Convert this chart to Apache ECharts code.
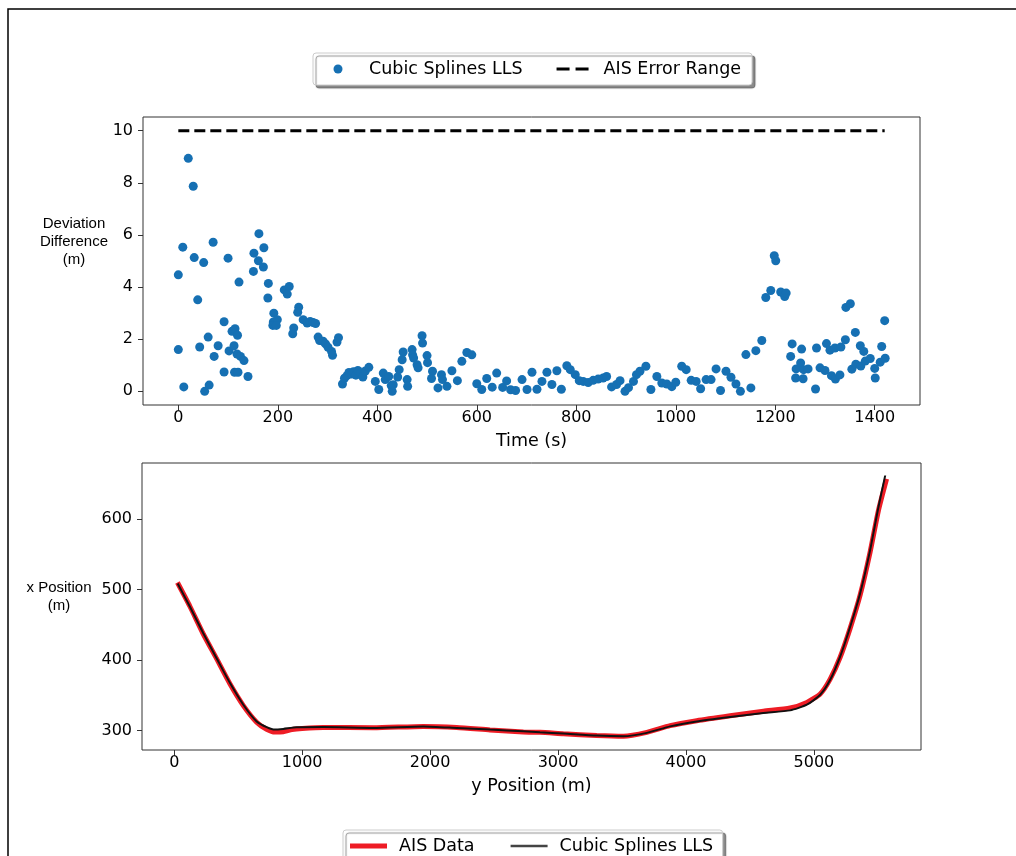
<!DOCTYPE html>
<html>
<head>
<meta charset="utf-8">
<script src="https://cdn.jsdelivr.net/npm/echarts@6.0.0/dist/echarts.min.js"></script>
<style>
  html, body { margin: 0; padding: 0; background: #fff; }
  #chart { width: 1016px; height: 856px; }
</style>
</head>
<body>
<div id="chart"></div>
<script>
// top panel: deviation between spline fit and AIS track
const timeS = [
  0, 0, 9, 11, 20, 30, 32, 39, 43, 51, 53, 60, 62, 70, 72, 80, 92, 92, 100, 102,
  108, 112, 114, 113, 119, 122, 120, 118, 125, 132, 140, 151, 152, 161, 162, 172, 171, 181, 180, 192,
  191, 199, 190, 197, 213, 219, 223, 232, 230, 242, 240, 251, 259, 265, 271, 276, 281, 284, 291, 296,
  301, 308, 310, 319, 322, 330, 334, 339, 343, 348, 352, 357, 361, 366, 371, 376, 383, 396, 403, 412,
  416, 423, 428, 430, 432, 441, 444, 450, 452, 460, 461, 470, 471, 473, 480, 482, 490, 491, 500, 501,
  511, 509, 522, 529, 531, 540, 550, 561, 570, 580, 590, 600, 610, 620, 631, 640, 652, 660, 668, 678,
  691, 701, 711, 721, 731, 741, 751, 761, 770, 781, 788, 798, 806, 814, 824, 834, 844, 854, 861, 871,
  881, 888, 898, 905, 915, 921, 928, 940, 950, 962, 972, 982, 992, 1000, 1012, 1021, 1031, 1041, 1050, 1061,
  1071, 1081, 1090, 1101, 1111, 1121, 1130, 1141, 1151, 1161, 1173, 1181, 1191, 1198, 1201, 1211, 1219, 1222, 1231, 1234,
  1241, 1242, 1251, 1253, 1256, 1257, 1266, 1281, 1283, 1290, 1300, 1303, 1310, 1313, 1320, 1321, 1330, 1332, 1341, 1342,
  1351, 1354, 1361, 1362, 1371, 1372, 1378, 1381, 1391, 1400, 1401, 1411, 1414, 1420, 1421
];
const deviation = [
  4.47, 1.60, 5.53, 0.17, 8.94, 7.87, 5.13, 3.51, 1.70, 4.94, 0.00, 2.08, 0.24, 5.72, 1.34, 1.75, 2.67, 0.74, 5.11, 1.55,
  2.30, 1.75, 2.40, 0.73, 2.15, 4.19, 0.73, 1.43, 1.34, 1.18, 0.57, 4.60, 5.30, 5.01, 6.05, 5.51, 4.77, 4.14, 3.58, 3.00,
  2.66, 2.75, 2.53, 2.53, 3.89, 3.73, 4.02, 2.43, 2.21, 3.23, 3.03, 2.75, 2.62, 2.68, 2.64, 2.60, 2.08, 1.95, 1.92, 1.82,
  1.69, 1.53, 1.38, 1.89, 2.06, 0.28, 0.50, 0.60, 0.72, 0.66, 0.75, 0.62, 0.80, 0.70, 0.55, 0.78, 0.92, 0.38, 0.07, 0.70,
  0.45, 0.57, 0.22, 0.00, 0.25, 0.55, 0.83, 1.21, 1.51, 0.45, 0.19, 1.60, 1.40, 1.28, 1.02, 0.90, 2.13, 1.85, 1.37, 1.10,
  0.77, 0.49, 0.13, 0.64, 0.45, 0.19, 0.79, 0.41, 1.15, 1.49, 1.40, 0.29, 0.07, 0.49, 0.16, 0.70, 0.15, 0.40, 0.06, 0.03,
  0.45, 0.07, 0.73, 0.08, 0.38, 0.73, 0.26, 0.79, 0.08, 0.98, 0.83, 0.64, 0.41, 0.38, 0.34, 0.42, 0.47, 0.51, 0.57, 0.17,
  0.26, 0.41, 0.00, 0.14, 0.38, 0.64, 0.77, 0.96, 0.07, 0.57, 0.32, 0.28, 0.18, 0.35, 0.96, 0.83, 0.42, 0.38, 0.10, 0.45,
  0.45, 0.86, 0.03, 0.77, 0.54, 0.28, 0.00, 1.41, 0.13, 1.56, 1.95, 3.60, 3.87, 5.20, 5.01, 3.81, 3.64, 3.77, 1.34, 1.82,
  0.51, 0.86, 1.09, 1.62, 0.48, 0.83, 0.86, 0.09, 1.66, 0.90, 0.80, 1.83, 1.58, 0.60, 1.66, 0.47, 0.63, 1.70, 1.98, 3.22,
  3.36, 0.85, 2.26, 1.04, 1.75, 0.97, 1.53, 1.16, 1.26, 0.88, 0.51, 1.12, 1.72, 2.71, 1.27
];
const errorRangeT = [0, 1420];
const errorRangeV = [10, 10];

// bottom panel: track positions
const yPosAis = [25, 123, 227, 331, 436, 540, 644, 722, 787, 852, 920, 1000, 1165, 1556, 1947, 2208, 2468, 2729, 2859, 3041,
  3302, 3511, 3694, 3876, 4084, 4345, 4605, 4814, 4945, 5049, 5127, 5205, 5283, 5361, 5439, 5504, 5568];
const xPosAis = [510, 476, 437, 402, 366, 335.5, 312, 302, 298, 298.5, 301.5, 303, 304.5, 304, 306, 304.5, 301, 298, 297.5, 295.5,
  293, 292, 297.5, 307, 314, 321, 327.5, 332, 340, 352, 373, 404, 445, 492, 553, 612, 657];
const yPosSpline = [27, 123, 227, 331, 436, 540, 644, 722, 787, 852, 957, 1165, 1556, 1947, 2208, 2468, 2729, 2859, 3041, 3302,
  3511, 3694, 3876, 4084, 4345, 4605, 4814, 4945, 5049, 5127, 5205, 5283, 5361, 5439, 5504, 5557];
const xPosSpline = [508.6, 475.6, 438, 402.7, 367.4, 336.7, 313, 305, 301.4, 302.4, 304.7, 305.2, 303.8, 306, 303.8, 301.4, 299, 297.6, 295.8, 292.9,
  292, 296.8, 306, 313, 319.3, 325, 328.7, 336.7, 350.8, 372, 405, 447, 494.5, 555.6, 616.8, 661.6];

const timeTicks = [0, 200, 400, 600, 800, 1000, 1200, 1400];
const devTicks = [0, 2, 4, 6, 8, 10];
const yPosTicks = [0, 1000, 2000, 3000, 4000, 5000];
const xPosTicks = [300, 400, 500, 600];

const zip = (a, b) => a.map((v, i) => [v, b[i]]);

const tickFont = { fontFamily: 'DejaVu Sans', fontSize: 16, color: '#000' };
const labelFont = { fontFamily: 'DejaVu Sans', fontSize: 17.5, color: '#000' };

// legend handles; the empty moves pin the icon box so the mark sits where matplotlib puts it
const dotIcon = 'path://M0,0L0,0M42,9L42,9M11.5,4.5a4.5,4.5 0 1,0 9,0a4.5,4.5 0 1,0 -9,0Z';
const dashIcon = 'path://M0,0L0,0M42,9L42,9M0,3h13v3h-13ZM19,3h13v3h-13Z';
const redIcon = 'path://M0,0L0,0M44,9L44,9M0,2h37v5h-37Z';
const greyIcon = 'path://M0,0L0,0M44,9L44,9M0,3.3h37v2.4h-37Z';

function valueAxis(gridIndex, min, max, ticks, margin, extra) {
  return Object.assign({
    type: 'value',
    gridIndex: gridIndex,
    min: min,
    max: max,
    axisLine: { show: false, onZero: false },
    axisTick: { show: true, length: 5, customValues: ticks, lineStyle: { color: '#333' } },
    axisLabel: Object.assign({ customValues: ticks, margin: margin, formatter: v => String(v) }, tickFont),
    splitLine: { show: false }
  }, extra || {});
}

const legendBase = {
  itemHeight: 9,
  textStyle: labelFont,
  backgroundColor: '#fff', borderColor: '#ccc', borderWidth: 1, borderRadius: 3,
  shadowColor: 'rgba(0,0,0,0.45)', shadowBlur: 1, shadowOffsetX: 3, shadowOffsetY: 3
};

const chart = echarts.init(document.getElementById('chart'));
chart.setOption({
  animation: false,
  backgroundColor: '#fff',
  grid: [
    { left: 143, top: 117, width: 777, height: 288, show: true, borderColor: '#333', borderWidth: 1 },
    { left: 142, top: 463, width: 779, height: 287, show: true, borderColor: '#333', borderWidth: 1 }
  ],
  xAxis: [
    valueAxis(0, -71, 1491, timeTicks, 5, {
      name: 'Time (s)', nameLocation: 'middle', nameGap: 27, nameTextStyle: labelFont
    }),
    valueAxis(1, -252, 5837, yPosTicks, 5, {
      name: 'y Position (m)', nameLocation: 'middle', nameGap: 27, nameTextStyle: labelFont
    })
  ],
  yAxis: [
    valueAxis(0, -0.525, 10.525, devTicks, 10),
    valueAxis(1, 272.5, 679.5, xPosTicks, 10)
  ],
  legend: [
    Object.assign({}, legendBase, {
      data: [
        { name: 'Cubic Splines LLS', icon: dotIcon },
        { name: 'AIS Error Range', icon: dashIcon }
      ],
      left: 313, top: 53,
      itemWidth: 42, itemGap: 34,
      padding: [7, 11, 7, 9]
    }),
    Object.assign({}, legendBase, {
      data: [
        { name: 'AIS Data', icon: redIcon },
        { name: 'Cubic Splines LLS ', icon: greyIcon, itemStyle: { color: '#444' } }
      ],
      left: 343, top: 830,
      itemWidth: 44, itemGap: 36,
      padding: [7, 4, 7, 7]
    })
  ],
  graphic: [
    {
      type: 'rect', silent: true,
      shape: { x: 8, y: 9, width: 1030, height: 870 },
      style: { fill: 'none', stroke: '#000', lineWidth: 1.5 }
    },
    {
      type: 'text', x: 74, y: 215,
      style: {
        text: 'Deviation\nDifference\n(m)', fontFamily: 'Liberation Sans', fontSize: 15,
        lineHeight: 18, align: 'center', verticalAlign: 'top', fill: '#000'
      }
    },
    {
      type: 'text', x: 59, y: 579,
      style: {
        text: 'x Position\n(m)', fontFamily: 'Liberation Sans', fontSize: 15,
        lineHeight: 18, align: 'center', verticalAlign: 'top', fill: '#000'
      }
    }
  ],
  series: [
    {
      name: 'Cubic Splines LLS',
      type: 'scatter',
      xAxisIndex: 0, yAxisIndex: 0,
      symbolSize: 9,
      itemStyle: { color: '#1670b3', opacity: 1 },
      data: zip(timeS, deviation)
    },
    {
      name: 'AIS Error Range',
      type: 'line',
      xAxisIndex: 0, yAxisIndex: 0,
      symbol: 'none',
      lineStyle: { color: '#000', width: 3, type: [11, 5] },
      itemStyle: { color: '#000' },
      data: zip(errorRangeT, errorRangeV)
    },
    {
      name: 'AIS Data',
      type: 'line',
      xAxisIndex: 1, yAxisIndex: 1,
      symbol: 'none',
      smooth: 0.2,
      lineStyle: { color: '#ee1c25', width: 5 },
      itemStyle: { color: '#ee1c25' },
      data: zip(yPosAis, xPosAis)
    },
    {
      name: 'Cubic Splines LLS ',
      type: 'line',
      xAxisIndex: 1, yAxisIndex: 1,
      symbol: 'none',
      smooth: 0.2,
      lineStyle: { color: '#111', width: 2 },
      itemStyle: { color: '#111' },
      data: zip(yPosSpline, xPosSpline)
    }
  ]
});
</script>
</body>
</html>
